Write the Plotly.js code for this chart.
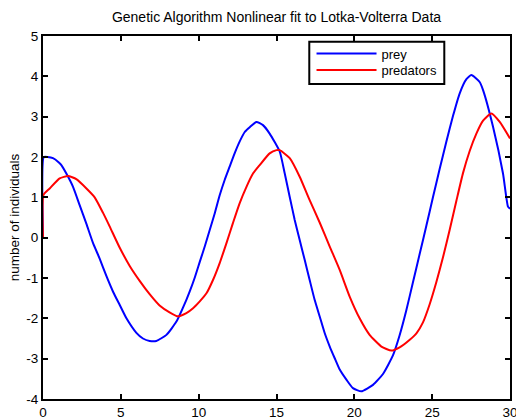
<!DOCTYPE html>
<html>
<head>
<meta charset="utf-8">
<script src="https://cdn.plot.ly/plotly-3.0.1.min.js"></script>
<style>html,body{margin:0;padding:0;background:#fff;}#chart{width:516px;height:417px;}</style>
</head>
<body>
<div id="chart"></div>
<script>
// Prey (blue) series
const preyT = [0, 0.05, 0.3, 0.64, 1.0, 1.18, 1.5, 1.93, 2.36, 2.79, 3.21, 3.64, 4.07, 4.5, 4.93, 5.36, 6.0, 6.42, 6.85, 7.28, 7.93, 8.57, 9.21, 9.42, 9.74, 10.07, 10.39, 10.71, 11.03, 11.35, 11.67, 11.99, 12.31, 12.63, 12.96, 13.28, 13.71, 14.13, 14.56, 15.21, 15.53, 15.85, 16.17, 16.49, 16.81, 17.13, 17.45, 17.78, 18.1, 18.42, 18.74, 19.06, 19.49, 19.91, 20.45, 21.2, 21.84, 22.48, 22.91, 23.34, 23.77, 24.2, 24.63, 25.05, 25.48, 25.91, 26.34, 26.77, 27.2, 27.52, 28.05, 28.27, 28.91, 29.55, 29.87, 30];
const preyN = [0, 2.0, 2.0, 1.97, 1.87, 1.8, 1.59, 1.26, 0.8, 0.34, -0.13, -0.52, -0.95, -1.34, -1.67, -2.0, -2.36, -2.5, -2.56, -2.56, -2.41, -2.08, -1.54, -1.34, -1.0, -0.6, -0.22, 0.19, 0.6, 1.05, 1.43, 1.76, 2.09, 2.38, 2.62, 2.74, 2.87, 2.79, 2.58, 2.13, 1.59, 1.01, 0.44, -0.06, -0.55, -1.05, -1.54, -1.96, -2.37, -2.7, -2.99, -3.27, -3.52, -3.73, -3.81, -3.65, -3.38, -2.92, -2.42, -1.8, -1.1, -0.4, 0.3, 1.0, 1.7, 2.38, 3.02, 3.58, 3.93, 4.03, 3.86, 3.66, 2.75, 1.59, 0.77, 0.72];

// Predators (red) series
const predT = [0, 0.03, 0.43, 1.07, 1.61, 2.14, 2.79, 3.32, 3.85, 4.28, 4.93, 5.57, 6.21, 6.85, 7.49, 8.13, 8.67, 9.21, 9.64, 10.07, 10.5, 10.92, 11.35, 11.78, 12.2, 12.63, 13.07, 13.49, 13.92, 14.56, 15.0, 15.21, 15.85, 16.49, 17.13, 17.78, 18.42, 19.06, 19.7, 20.34, 20.98, 21.74, 22.38, 22.91, 23.56, 23.99, 24.41, 24.84, 25.27, 25.7, 26.13, 26.56, 26.98, 27.41, 27.84, 28.27, 28.8, 29.34, 30];
const predN = [0, 1.06, 1.22, 1.47, 1.53, 1.45, 1.22, 1.0, 0.62, 0.28, -0.25, -0.7, -1.07, -1.4, -1.68, -1.85, -1.95, -1.87, -1.75, -1.58, -1.38, -1.05, -0.63, -0.14, 0.36, 0.85, 1.26, 1.59, 1.8, 2.09, 2.17, 2.17, 1.97, 1.51, 0.93, 0.37, -0.22, -0.8, -1.46, -2.0, -2.41, -2.7, -2.8, -2.72, -2.53, -2.37, -2.1, -1.65, -1.1, -0.48, 0.2, 0.92, 1.6, 2.15, 2.58, 2.9, 3.08, 2.87, 2.46];

const xTicks = [0, 5, 10, 15, 20, 25, 30];
const xTickText = ["0", "5", "10", "15", "20", "25", "30"];
const yTicks = [-4, -3, -2, -1, 0, 1, 2, 3, 4, 5];
const yTickText = ["-4", "-3", "-2", "-1", "0", "1", "2", "3", "4", "5"];

const FONT = "Arial, 'Liberation Sans', sans-serif";

const traces = [
  {x: preyT, y: preyN, name: "prey", type: "scatter", mode: "lines", legend: "legend",
   line: {color: "#0000ff", width: 2, shape: "spline", smoothing: 0.5}},
  {x: predT, y: predN, name: "predators", type: "scatter", mode: "lines", legend: "legend2",
   line: {color: "#ff0000", width: 2, shape: "spline", smoothing: 0.5}}
];

const axisCommon = {
  showline: true, linecolor: "#000", linewidth: 2, mirror: "ticks",
  ticks: "inside", ticklen: 5, tickwidth: 2, tickcolor: "#000",
  showgrid: false, zeroline: false, automargin: false, ticklabeloverflow: "allow",
  tickfont: {family: FONT, size: 13.5, color: "#000"}
};

const legendCommon = {
  xanchor: "left", yanchor: "middle", bgcolor: "rgba(0,0,0,0)", borderwidth: 0,
  font: {family: FONT, size: 13, color: "#000"}, itemwidth: 60
};

const layout = {
  width: 516, height: 417,
  margin: {l: 43, r: 6, t: 36, b: 18, pad: 0},
  paper_bgcolor: "#fff", plot_bgcolor: "#fff",
  font: {family: FONT, color: "#000"},
  title: {text: "Genetic Algorithm Nonlinear fit to Lotka-Volterra Data",
    font: {family: FONT, size: 14, color: "#000"},
    x: 0.5, xref: "paper", xanchor: "center", y: 0.958, yref: "container", yanchor: "middle"},
  xaxis: Object.assign({}, axisCommon, {range: [0, 30], tickmode: "array", tickvals: xTicks, ticktext: xTickText}),
  yaxis: Object.assign({}, axisCommon, {range: [-4, 5], tickmode: "array", tickvals: yTicks, ticktext: yTickText,
    title: {text: "number of individuals", font: {family: FONT, size: 13.5, color: "#000"}, standoff: 4}}),
  showlegend: true,
  legend: Object.assign({}, legendCommon, {x: 0.575, y: 0.9518}),
  legend2: Object.assign({}, legendCommon, {x: 0.575, y: 0.9063}),
  shapes: [
    {type: "rect", xref: "paper", yref: "paper", x0: 0.5702, x1: 0.8593, y0: 0.8678, y1: 0.9843,
     line: {color: "#000", width: 2}, fillcolor: "#fff", layer: "above"}
  ]
};

Plotly.newPlot("chart", traces, layout, {staticPlot: true, displayModeBar: false});
</script>
</body>
</html>
